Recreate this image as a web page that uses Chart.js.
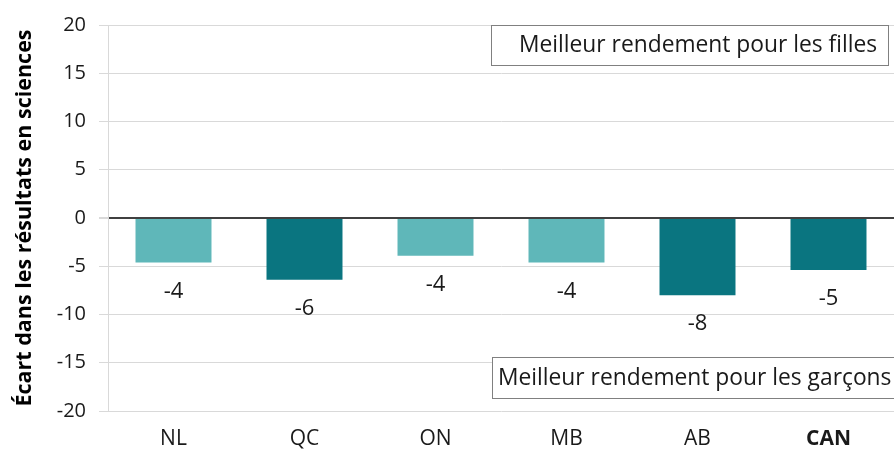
<!DOCTYPE html>
<html>
<head>
<meta charset="utf-8">
<script src="https://cdn.jsdelivr.net/npm/chart.js@4/dist/chart.umd.min.js"></script>
<style>
html,body{margin:0;padding:0;background:#fff;}
#wrap{width:894px;height:455px;position:relative;}
</style>
</head>
<body>
<div id="wrap"><canvas id="c" width="894" height="455"></canvas></div>
<script>
const categories = ["NL", "QC", "ON", "MB", "AB", "CAN"];
const gapValues = [-4.6, -6.4, -3.9, -4.6, -8.0, -5.4];
const gapLabels = ["-4", "-6", "-4", "-4", "-8", "-5"];
const significant = [false, true, false, false, true, true];
const yTicks = [20, 15, 10, 5, 0, -5, -10, -15, -20];
const axisTitle = "Écart dans les résultats en sciences";
const noteGirls = "Meilleur rendement pour les filles";
const noteBoys = "Meilleur rendement pour les garçons";

const LIGHT = "#5fb7b9";
const DARK = "#0a7580";
const FONT = "'Open Sans', sans-serif";

const labelPlugin = {
  id: "valueLabels",
  afterDatasetsDraw(chart) {
    const ctx = chart.ctx;
    const meta = chart.getDatasetMeta(0);
    const y = chart.scales.y;
    ctx.save();
    ctx.font = "22px " + FONT;
    ctx.fillStyle = "#1a1a1a";
    ctx.textAlign = "center";
    ctx.textBaseline = "middle";
    meta.data.forEach((bar, i) => {
      const yEnd = y.getPixelForValue(gapValues[i]);
      ctx.fillText(gapLabels[i], bar.x, yEnd + 29);
    });
    ctx.restore();
  }
};

const notesPlugin = {
  id: "notes",
  afterDraw(chart) {
    const ctx = chart.ctx;
    const a = chart.chartArea;
    const y = chart.scales.y;
    ctx.save();
    ctx.font = "22.8px " + FONT;
    ctx.strokeStyle = "#808080";
    ctx.lineWidth = 1;
    ctx.textBaseline = "middle";
    // Girls box
    const l1 = a.left + 383;
    const w1 = 397;
    const t1 = y.getPixelForValue(20);
    ctx.fillStyle = "#fff";
    ctx.fillRect(l1, t1, w1, 40);
    ctx.strokeRect(Math.round(l1) + 0.5, Math.round(t1) + 0.5, w1, 40);
    ctx.fillStyle = "#1a1a1a";
    ctx.textAlign = "left";
    ctx.fillText(noteGirls, l1 + 28, t1 + 21);
    // Boys box
    const l2 = a.left + 384;
    const t2 = y.getPixelForValue(-14.4);
    const w2 = 420;
    ctx.fillStyle = "#fff";
    ctx.fillRect(l2, t2, w2, 41);
    ctx.strokeRect(Math.round(l2) + 0.5, Math.round(t2) + 0.5, w2, 41);
    ctx.fillStyle = "#1a1a1a";
    ctx.fillText(noteBoys, l2 + 6, t2 + 22);
    ctx.restore();
  }
};

new Chart(document.getElementById("c"), {
  type: "bar",
  data: {
    labels: categories,
    datasets: [{
      data: gapValues,
      backgroundColor: significant.map(s => s ? DARK : LIGHT),
      borderWidth: 0,
      categoryPercentage: 1,
      barPercentage: 0.58
    }]
  },
  options: {
    responsive: false,
    animation: false,
    devicePixelRatio: 1,
    layout: { padding: { top: 22, right: 0, left: 0, bottom: 0 } },
    plugins: { legend: { display: false }, tooltip: { enabled: false } },
    scales: {
      x: {
        grid: { display: false, drawTicks: false },
        border: { display: false },
        ticks: {
          padding: 15,
          color: "#1a1a1a",
          font: (c) => ({ family: FONT, size: 21, weight: c.index === 5 ? "bold" : "normal" })
        },
        afterFit(s) { s.height = 44; }
      },
      y: {
        min: -20, max: 20,
        afterBuildTicks(s) { s.ticks = yTicks.map(v => ({ value: v })); },
        grid: {
          color: (c) => c.tick && c.tick.value === 0 ? "#404040" : "#d9d9d9",
          lineWidth: (c) => c.tick && c.tick.value === 0 ? 2 : 1,
          tickColor: "#d9d9d9",
          tickLength: 9
        },
        border: { display: true, color: "#d9d9d9" },
        ticks: {
          padding: 13,
          color: "#1a1a1a",
          font: { family: FONT, size: 20 }
        },
        title: {
          display: true,
          text: axisTitle,
          color: "#000",
          font: { family: FONT, size: 21.5, weight: "bold" },
          padding: { top: 12, bottom: 0 }
        },
        afterFit(s) { s.width = 108; }
      }
    }
  },
  plugins: [labelPlugin, notesPlugin]
});
</script>
</body>
</html>
